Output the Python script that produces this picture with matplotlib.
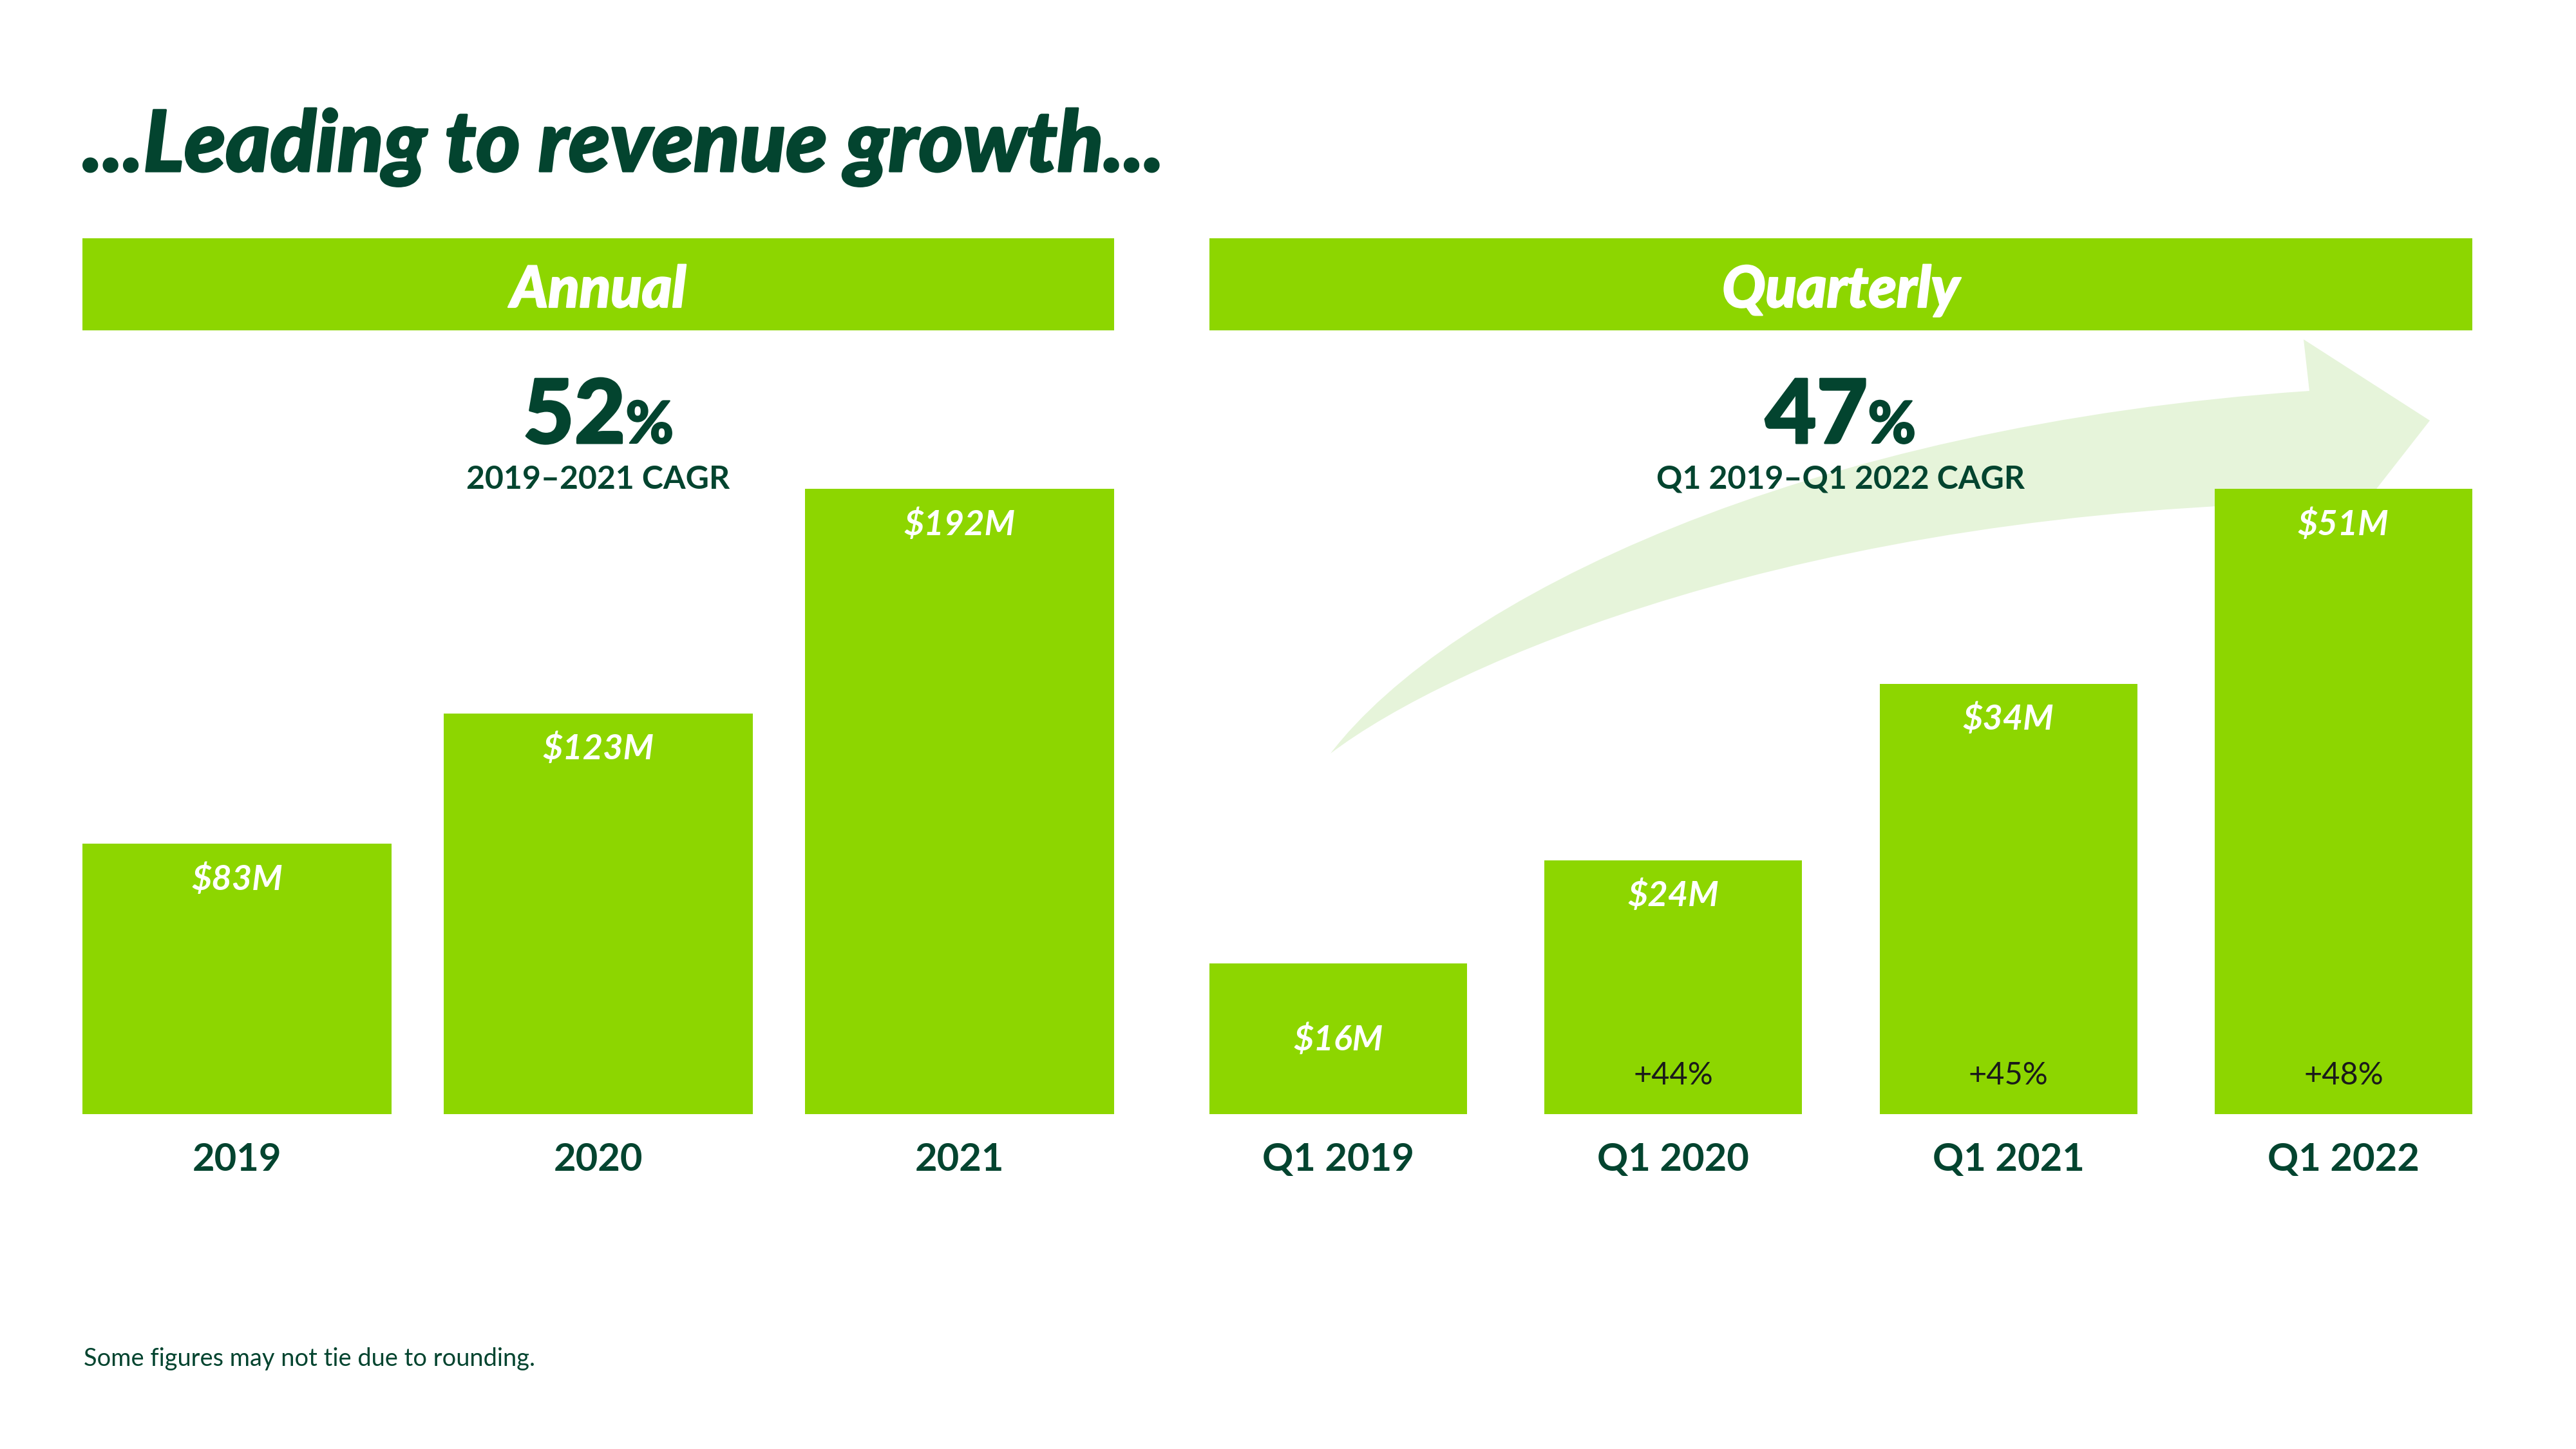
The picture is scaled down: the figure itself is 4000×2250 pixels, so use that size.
import matplotlib
matplotlib.use("Agg")
import matplotlib.pyplot as plt
import matplotlib.patheffects as pe
from matplotlib.path import Path
from matplotlib.patches import PathPatch, Rectangle

plt.rcParams['font.family'] = ['Lato', 'DejaVu Sans']
HEAVY = ['Lato Black', 'Lato', 'DejaVu Sans']

# ---------------- data ----------------
title = "...Leading to revenue growth..."
panel_titles = ["Annual", "Quarterly"]

annual_years = ["2019", "2020", "2021"]
annual_revenue = [83, 123, 192]            # $M
annual_cagr = "52"
annual_cagr_label = "2019\u20132021 CAGR"

quarter_labels = ["Q1 2019", "Q1 2020", "Q1 2021", "Q1 2022"]
quarter_revenue = [16, 24, 34, 51]         # $M (as labelled)
quarter_bar_height = [12.3, 20.7, 35.1, 51.0]  # bar heights as drawn in the chart
quarter_growth = [None, "+44%", "+45%", "+48%"]
quarter_cagr = "47"
quarter_cagr_label = "Q1 2019\u2013Q1 2022 CAGR"

footnote = "Some figures may not tie due to rounding."

# ---------------- style ----------------
GREEN = "#8DD600"
DARK = "#03442F"
ARROW = "#E6F4DA"
W, H = 4000, 2250

def fx(x):
    return x / W

def fy(y):
    return 1 - y / H

def heavy(color, lw):
    return [pe.withStroke(linewidth=lw, foreground=color)]

fig = plt.figure(figsize=(40, 22.5), dpi=100, facecolor="white")
renderer = fig.canvas.get_renderer()

# title (fit to reference width)
t = fig.text(fx(128), fy(266), title, fontsize=97, fontstyle="italic", weight="black",
             family=HEAVY, color=DARK, ha="left", va="baseline",
             path_effects=heavy(DARK, 2.2))
tw = t.get_window_extent(renderer).width
t.set_fontsize(97 * min(1.0, 1680 / tw) if tw > 0 else 97)

# header bands
for (x0, x1), name in zip([(128, 1730), (1878, 3839)], panel_titles):
    fig.add_artist(Rectangle((fx(x0), fy(513)), (x1 - x0) / W, (513 - 370) / H,
                             transform=fig.transFigure, fc=GREEN, ec="none", zorder=1))
    fig.text(fx((x0 + x1) / 2), fy(477), name, fontsize=64, fontstyle="italic",
             weight="black", family=HEAVY, color="white", ha="center", va="baseline",
             zorder=3, path_effects=heavy("white", 1.6))

# decorative growth arrow (behind right panel)
T = (2066, 1170)
verts = [T, (2250, 930), (2800, 660), (3586, 607),
         (3577, 527), (3773, 653), (3648, 813), (3625, 780),
         (2800, 790), (2250, 1030), T, T]
codes = [Path.MOVETO, Path.CURVE4, Path.CURVE4, Path.CURVE4,
         Path.LINETO, Path.LINETO, Path.LINETO, Path.LINETO,
         Path.CURVE4, Path.CURVE4, Path.CURVE4, Path.CLOSEPOLY]
arrow = PathPatch(Path([(fx(x), fy(y)) for x, y in verts], codes),
                  transform=fig.transFigure, fc=ARROW, ec="none", zorder=-1)
fig.add_artist(arrow)

# axes
ax_l = fig.add_axes([fx(128), fy(1730), (1730 - 128) / W, (1730 - 759) / H])
ax_r = fig.add_axes([fx(1878), fy(1730), (3839 - 1878) / W, (1730 - 759) / H])
for ax in (ax_l, ax_r):
    ax.axis("off")
    ax.patch.set_visible(False)

VAL_FS = 39

# annual bars
xa = range(len(annual_years))
ax_l.bar(xa, annual_revenue, width=0.8556, color=GREEN, zorder=2)
ax_l.set_xlim(-0.4278, len(annual_years) - 1 + 0.4278)
ax_l.set_ylim(0, max(annual_revenue))
for i, (lab, v) in enumerate(zip(annual_years, annual_revenue)):
    ax_l.annotate(f"${v}M", xy=(i, v), xytext=(0, -51.5), textcoords="offset points",
                  ha="center", va="baseline", color="white", fontsize=VAL_FS,
                  fontstyle="italic", weight="bold", annotation_clip=False)
    ax_l.annotate(lab, xy=(i, 0), xytext=(0, -63.4), textcoords="offset points",
                  ha="center", va="baseline", color=DARK, fontsize=43, weight="bold",
                  annotation_clip=False)

# quarterly bars
xq = range(len(quarter_labels))
ax_r.bar(xq, quarter_bar_height, width=0.769, color=GREEN, zorder=2)
ax_r.set_xlim(-0.3846, len(quarter_labels) - 1 + 0.3846)
ax_r.set_ylim(0, max(quarter_bar_height))
for i, (lab, v, h, g) in enumerate(zip(quarter_labels, quarter_revenue,
                                      quarter_bar_height, quarter_growth)):
    if g is None:
        ax_r.annotate(f"${v}M", xy=(i, h / 2), xytext=(0, -12.8), textcoords="offset points",
                      ha="center", va="baseline", color="white", fontsize=VAL_FS,
                      fontstyle="italic", weight="bold", annotation_clip=False)
    else:
        ax_r.annotate(f"${v}M", xy=(i, h), xytext=(0, -51.5), textcoords="offset points",
                      ha="center", va="baseline", color="white", fontsize=VAL_FS,
                      fontstyle="italic", weight="bold", annotation_clip=False)
        ax_r.annotate(g, xy=(i, 0), xytext=(0, 33), textcoords="offset points",
                      ha="center", va="baseline", color="#1A1A1A", fontsize=35,
                      annotation_clip=False)
    ax_r.annotate(lab, xy=(i, 0), xytext=(0, -63.4), textcoords="offset points",
                  ha="center", va="baseline", color=DARK, fontsize=43, weight="bold",
                  annotation_clip=False)

# CAGR call-outs
for cx, num, sub in [(929, annual_cagr, annual_cagr_label),
                     (2858, quarter_cagr, quarter_cagr_label)]:
    t1 = fig.text(0, fy(688), num, fontsize=99, weight="black", family=HEAVY, color=DARK,
                  ha="left", va="baseline", zorder=5, path_effects=heavy(DARK, 2.2))
    t2 = fig.text(0, fy(688), "%", fontsize=65, weight="black", family=HEAVY, color=DARK,
                  ha="left", va="baseline", zorder=5, path_effects=heavy(DARK, 1.6))
    w1 = t1.get_window_extent(renderer).width
    w2 = t2.get_window_extent(renderer).width
    left = cx - (w1 + w2) / 2
    t1.set_x(fx(left))
    t2.set_x(fx(left + w1))
    fig.text(fx(cx), fy(759), sub, fontsize=36, weight="bold", color=DARK,
             ha="center", va="baseline", zorder=5)

# footnote
fig.text(fx(130), fy(2121), footnote, fontsize=27.4, color=DARK, ha="left", va="baseline")

fig.savefig("out.png", dpi=100, facecolor="white")
